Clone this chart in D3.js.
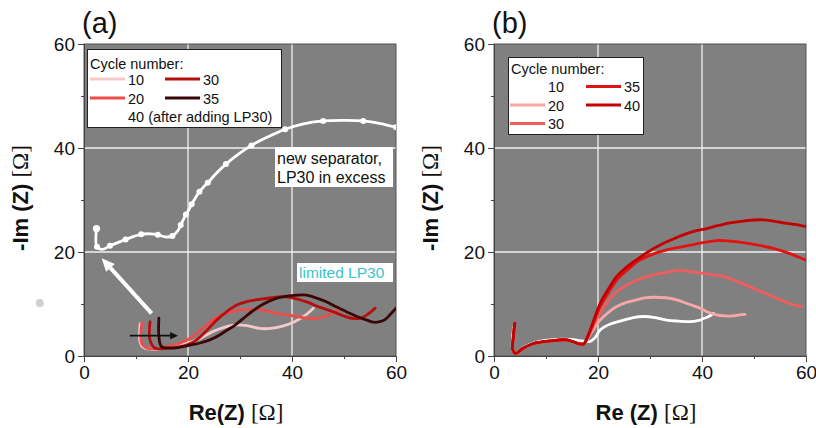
<!DOCTYPE html>
<html>
<head>
<meta charset="utf-8">
<script src="https://cdn.jsdelivr.net/npm/d3@7"></script>
<style>
  html, body { margin: 0; padding: 0; background: #fff; }
  svg { display: block; font-family: "Liberation Sans", Arial, sans-serif; }
</style>
</head>
<body>
<svg id="chart" width="816" height="428"></svg>
<script>
// ---- axis ticks ----
const majorTicks = [0, 20, 40, 60];
const minorTicks = [10, 30, 50];
const gridTicks = [20, 40];

// ---- panel (a): Nyquist spectra, limited electrolyte ----
const cyclesA = ["10", "20", "30", "35"];
const colorsA = ["#f6c9c9", "#ee4b4b", "#b70d0d", "#3a0707"];
const a10 = [[10.8,6.2],[10.8,2.6],[11.5,1.6],[13,1.3],[16,1.5],[19,2.2],[22,3.2],[25,4.8],[28.5,5.9],[31,5.9],[33.8,5.3],[36,5.3],[38,5.7],[40.5,6.6],[42.5,7.8],[44.1,9.2]];
const a20 = [[11.1,6.3],[11.1,2.4],[12.1,1.5],[14,1.4],[15.9,1.8],[18.5,2.5],[20.4,3.4],[22,4.6],[23.6,6],[25.2,7.2],[26.8,8.0],[28.7,8.6],[30.6,8.9],[33,9.0],[35.1,8.7],[37,8.2],[39,7.9],[41.5,7.5],[44.1,7.2],[46,7.5],[47.9,8.2],[49.2,9.2]];
const a30 = [[12.7,6.6],[12.7,3.0],[13.7,1.5],[16,1.5],[18.5,1.8],[20.2,2.3],[21.7,3.1],[23.6,4.9],[25.5,6.9],[27.4,8.5],[29.4,9.8],[31.5,10.5],[33.8,10.9],[36,11.2],[38.3,11.4],[40.5,11.1],[42.8,10.4],[45.3,9.4],[47.9,8.5],[50,7.7],[51.8,7.2],[53.2,7.3],[54.4,7.9],[56,9.2]];
const a35 = [[14.4,7.3],[14.4,3.8],[14.9,1.8],[16.5,1.5],[18.5,1.7],[20.4,2.1],[22.3,2.5],[24.2,3.1],[26,4],[27.4,4.9],[29,5.9],[30.6,7.2],[32.5,8.7],[34.5,10.0],[36.7,11],[39,11.5],[40.9,11.7],[42.8,11.7],[44.8,11.1],[46.7,10.4],[48.6,9.4],[50.5,8.5],[52.5,7.6],[54.4,6.9],[55.7,6.5],[56.9,6.6],[58,7.1],[58.8,7.9],[60,9.2]];
// cycle 40, after adding LP30 (new separator), drawn with markers
const a40 = [[2.4,24.5],[2.5,21.0],[3.5,20.5],[5,21.2],[6.5,21.8],[8,22.4],[9.6,23.0],[11,23.4],[12.8,23.5],[14.2,23.3],[15.6,22.9],[17,23.1],[18,24.0],[18.6,25.2],[19.1,26.2],[19.6,27.2],[20.1,28.0],[20.7,29.2],[21.3,30.2],[22.2,31.6],[23.0,32.5],[23.8,33.3],[25.5,35.2],[27.3,36.9],[29.7,38.8],[32.2,40.5],[35.5,42.2],[38.7,43.6],[42,44.6],[46,45.2],[50,45.3],[53.7,45.2],[57,44.7],[60,44.0]];
const a40Markers = [0, 1, 3, 5, 7, 9, 11, 13, 15, 17, 19, 21, 23, 25, 27, 29, 31, 33];

// ---- panel (b): Nyquist spectra ----
const cyclesB = ["10", "20", "30", "35", "40"];
const colorsB = ["#ffffff", "#f8a6a6", "#f25c5c", "#e41111", "#c30000"];
const bStart = [[4.0,6.3],[3.7,3.5],[3.6,1.2],[4.2,0.5],[5.6,1.5],[7.6,2.4],[10.8,2.9],[14,3.1],[16.2,2.4],[17.2,2.3]];
const b10 = [[3.8,5.5],[3.6,1.2],[4.2,0.5],[5.6,1.6],[7.6,2.5],[10.8,3.1],[14.6,3.2],[17,2.9],[18.5,2.8],[19.5,3.6],[20.4,5],[22.5,6.2],[24.9,6.9],[26.8,7.4],[28.7,7.6],[31,7.4],[33.2,6.9],[35.5,6.7],[37.7,6.6],[39.2,6.8],[40.3,7.2],[41.3,7.6],[42.2,8.2]];
const b20 = bStart.concat([[17.8,3.1],[19,4.9],[20.4,6.9],[22,8.4],[23.6,9.5],[25.5,10.3],[27.4,10.8],[29,11.2],[30.6,11.3],[33,11.2],[35.1,10.8],[37.4,10],[39.6,9.2],[41.2,8.4],[42.8,7.9],[44.4,7.7],[46,7.7],[47.2,7.9],[48.3,8.0]]);
const b30 = bStart.concat([[18.2,3.8],[19.2,6],[20.4,8.3],[21.6,10.1],[22.9,11.7],[24.5,13],[26.2,14],[28.4,14.9],[30.6,15.6],[33.2,16.1],[35.8,16.4],[38,16.2],[40.3,15.9],[42.2,15.6],[44.1,15.3],[46.6,14.4],[49.2,13.3],[51.8,12.2],[54.4,11.1],[56.8,10.1],[59.2,9.5]]);
const b35 = bStart.concat([[18.3,4.3],[19.3,6.8],[20.4,9.5],[22,12.2],[23.6,14.6],[25.8,16.7],[28.1,18.5],[30.6,19.6],[33.2,20.4],[35.5,20.9],[37.7,21.3],[40.2,21.8],[42.8,22.2],[45.3,22.1],[47.9,21.8],[50.8,21.3],[53.7,20.7],[56.9,19.7],[59.8,18.5],[60.5,18.2]]);
const b40 = bStart.concat([[18.3,4.5],[19.3,7.2],[20.4,10.1],[22,12.9],[23.6,15.3],[25.5,17.1],[27.4,18.5],[29.3,19.8],[31.3,21],[33.8,22.2],[36.4,23.3],[38.6,24],[40.9,24.5],[43.2,25.1],[45.4,25.6],[48.3,26],[51.2,26.2],[53.5,26],[55.6,25.6],[57.8,25.3],[60.5,24.8]]);

// annotation arrows in data units: [from, to]
const whiteArrow = [[13, 8.2], [3.4, 18.8]];
const blackArrow = [[8.8, 3.9], [18.1, 3.9]];
const strayDot = [-8.5, 10.2];

const svg = d3.select("#chart");
const defs = svg.append("defs");

function makePanel(opts) {
  const x = d3.scaleLinear().domain([0, 60]).range([opts.left, opts.left + 312]);
  const y = d3.scaleLinear().domain([0, 60]).range([356, 44]);
  const g = svg.append("g");

  g.append("rect")
    .attr("x", x(0)).attr("y", y(60))
    .attr("width", x(60) - x(0)).attr("height", y(0) - y(60))
    .attr("fill", "#808080");

  // grid
  g.selectAll(".gx").data(gridTicks).join("line")
    .attr("x1", d => x(d)).attr("x2", d => x(d))
    .attr("y1", y(0)).attr("y2", y(60))
    .attr("stroke", "#f2f2f2").attr("stroke-width", 1.3);
  g.selectAll(".gy").data(gridTicks).join("line")
    .attr("y1", d => y(d)).attr("y2", d => y(d))
    .attr("x1", x(0)).attr("x2", x(60))
    .attr("stroke", "#f2f2f2").attr("stroke-width", 1.3);

  // frame
  g.append("rect")
    .attr("x", x(0)).attr("y", y(60))
    .attr("width", x(60) - x(0)).attr("height", y(0) - y(60))
    .attr("fill", "none").attr("stroke", "#555").attr("stroke-width", 1);

  // axes
  const xAxis = d3.axisBottom(x).tickValues(majorTicks).tickSize(6).tickPadding(4).tickFormat(d3.format("d"));
  const yAxis = d3.axisLeft(y).tickValues(majorTicks).tickSize(6).tickPadding(3).tickFormat(d3.format("d"));
  const xMinor = d3.axisBottom(x).tickValues(minorTicks).tickSize(3).tickFormat("");
  const yMinor = d3.axisLeft(y).tickValues(minorTicks).tickSize(3).tickFormat("");

  const gx = g.append("g").attr("transform", `translate(0,${y(0)})`).call(xAxis);
  const gy = g.append("g").attr("transform", `translate(${x(0)},0)`).call(yAxis);
  g.append("g").attr("transform", `translate(0,${y(0)})`).call(xMinor);
  g.append("g").attr("transform", `translate(${x(0)},0)`).call(yMinor);
  g.selectAll(".domain").attr("stroke", "#444");
  g.selectAll(".tick line").attr("stroke", "#444");
  [gx, gy].forEach(a => a.selectAll("text")
    .attr("font-size", 19).attr("fill", "#111")
    .attr("font-family", "'Liberation Sans', Arial, sans-serif"));

  // clip
  const clipId = "clip-" + opts.id;
  defs.append("clipPath").attr("id", clipId).append("rect")
    .attr("x", x(0)).attr("y", y(60))
    .attr("width", x(60) - x(0)).attr("height", y(0) - y(60));
  const plot = g.append("g").attr("clip-path", `url(#${clipId})`);

  // panel letter
  g.append("text").attr("x", x(0) - 2).attr("y", 33)
    .attr("font-size", 29).attr("fill", "#111").text(opts.letter);

  // axis titles
  const xt = g.append("text").attr("x", (x(0) + x(60)) / 2 - 4).attr("y", 420)
    .attr("text-anchor", "middle").attr("font-size", 22).attr("font-weight", "bold").attr("fill", "#111");
  xt.append("tspan").text(opts.xTitle);
  xt.append("tspan").attr("font-family", "'Liberation Serif', 'Times New Roman', serif")
    .attr("font-weight", "normal").attr("font-size", 23).text("[Ω]");

  const yt = g.append("text")
    .attr("transform", `translate(${x(0) - 56},${(y(0) + y(60)) / 2 - 2}) rotate(-90)`)
    .attr("text-anchor", "middle").attr("font-size", 22).attr("font-weight", "bold").attr("fill", "#111");
  yt.append("tspan").text("-Im (Z) ");
  yt.append("tspan").attr("font-family", "'Liberation Serif', 'Times New Roman', serif")
    .attr("font-weight", "normal").attr("font-size", 23).text("[Ω]");

  return { x, y, g, plot };
}

function drawArrow(parent, x, y, pts, color, width, head) {
  const x1 = x(pts[0][0]), y1 = y(pts[0][1]), x2 = x(pts[1][0]), y2 = y(pts[1][1]);
  const ang = Math.atan2(y2 - y1, x2 - x1);
  const bx = x2 - head * Math.cos(ang), by = y2 - head * Math.sin(ang);
  parent.append("line").attr("x1", x1).attr("y1", y1).attr("x2", bx).attr("y2", by)
    .attr("stroke", color).attr("stroke-width", width);
  const hw = head * 0.45;
  const pth = [[x2, y2],
    [bx + hw * Math.sin(ang), by - hw * Math.cos(ang)],
    [bx - hw * Math.sin(ang), by + hw * Math.cos(ang)]];
  parent.append("polygon").attr("points", pth.map(p => p.join(",")).join(" ")).attr("fill", color);
}

const line = (x, y) => d3.line().x(d => x(d[0])).y(d => y(d[1])).curve(d3.curveCatmullRom.alpha(0.5));

// ================= panel (a) =================
const A = makePanel({ id: "a", left: 84, letter: "(a)", xTitle: "Re(Z) " });
const seriesA = [a10, a20, a30, a35];
seriesA.forEach((s, i) => {
  A.plot.append("path").datum(s).attr("d", line(A.x, A.y))
    .attr("fill", "none").attr("stroke", colorsA[i]).attr("stroke-width", 2.8)
    .attr("stroke-linejoin", "round").attr("stroke-linecap", "round");
});
A.plot.append("path").datum(a40).attr("d", line(A.x, A.y))
  .attr("fill", "none").attr("stroke", "#fff").attr("stroke-width", 2.8);
A.plot.selectAll(".m40").data(a40Markers.map(i => a40[i])).join("circle")
  .attr("cx", d => A.x(d[0])).attr("cy", d => A.y(d[1])).attr("r", d => d === a40[0] ? 3.6 : 3)
  .attr("fill", "#fff");

drawArrow(A.plot, A.x, A.y, whiteArrow, "#fff", 4, 13);
drawArrow(A.plot, A.x, A.y, blackArrow, "#111", 1.8, 8);

// stray marker left of the axis
A.g.append("circle").attr("cx", A.x(strayDot[0])).attr("cy", A.y(strayDot[1])).attr("r", 4).attr("fill", "#cfcfcf");

// annotation boxes
A.g.append("rect").attr("x", 275).attr("y", 147).attr("width", 118).attr("height", 40).attr("fill", "#fff");
A.g.append("text").attr("x", 277).attr("y", 164).attr("font-size", 16).attr("fill", "#111").text("new separator,");
A.g.append("text").attr("x", 277).attr("y", 183).attr("font-size", 16).attr("fill", "#111").text("LP30 in excess");
A.g.append("rect").attr("x", 297).attr("y", 263).attr("width", 96).attr("height", 19).attr("fill", "#fff");
A.g.append("text").attr("x", 299).attr("y", 278).attr("font-size", 15.5).attr("fill", "#3ec3c6").text("limited LP30");

// legend (a)
const legA = A.g.append("g");
legA.append("rect").attr("x", 87.5).attr("y", 49.5).attr("width", 194).attr("height", 78)
  .attr("fill", "#fff").attr("stroke", "#222").attr("stroke-width", 1);
legA.append("text").attr("x", 90).attr("y", 68.5).attr("font-size", 14.5).attr("fill", "#111").text("Cycle number:");
const legAItems = [
  { lab: cyclesA[0], c: colorsA[0], col: 0, row: 0 },
  { lab: cyclesA[2], c: colorsA[2], col: 1, row: 0 },
  { lab: cyclesA[1], c: colorsA[1], col: 0, row: 1 },
  { lab: cyclesA[3], c: colorsA[3], col: 1, row: 1 }
];
legAItems.forEach(it => {
  const lx = 90 + it.col * 75, ly = 79 + it.row * 19;
  legA.append("line").attr("x1", lx).attr("x2", lx + 35).attr("y1", ly).attr("y2", ly)
    .attr("stroke", it.c).attr("stroke-width", 3);
  legA.append("text").attr("x", lx + 38).attr("y", ly + 5.5).attr("font-size", 14.5).attr("fill", "#111").text(it.lab);
});
legA.append("text").attr("x", 128).attr("y", 122).attr("font-size", 14.5).attr("fill", "#111").text("40 (after adding LP30)");

// ================= panel (b) =================
const B = makePanel({ id: "b", left: 494, letter: "(b)", xTitle: "Re (Z) " });
const seriesB = [b10, b20, b30, b35, b40];
seriesB.forEach((s, i) => {
  B.plot.append("path").datum(s).attr("d", line(B.x, B.y))
    .attr("fill", "none").attr("stroke", colorsB[i]).attr("stroke-width", 2.8)
    .attr("stroke-linejoin", "round").attr("stroke-linecap", "round");
});

// legend (b)
const legB = B.g.append("g");
legB.append("rect").attr("x", 508.5).attr("y", 57.5).attr("width", 135).attr("height", 77)
  .attr("fill", "#fff").attr("stroke", "#222").attr("stroke-width", 1);
legB.append("text").attr("x", 511).attr("y", 73.5).attr("font-size", 14.5).attr("fill", "#111").text("Cycle number:");
const legBItems = [
  { lab: cyclesB[0], c: colorsB[0], col: 0, row: 0 },
  { lab: cyclesB[1], c: colorsB[1], col: 0, row: 1 },
  { lab: cyclesB[2], c: colorsB[2], col: 0, row: 2 },
  { lab: cyclesB[3], c: colorsB[3], col: 1, row: 0 },
  { lab: cyclesB[4], c: colorsB[4], col: 1, row: 1 }
];
legBItems.forEach(it => {
  const lx = 510 + it.col * 76, ly = 86.5 + it.row * 18.5;
  legB.append("line").attr("x1", lx).attr("x2", lx + 35).attr("y1", ly).attr("y2", ly)
    .attr("stroke", it.c).attr("stroke-width", 3);
  legB.append("text").attr("x", lx + 38).attr("y", ly + 5.5).attr("font-size", 14.5).attr("fill", "#111").text(it.lab);
});
</script>
</body>
</html>
